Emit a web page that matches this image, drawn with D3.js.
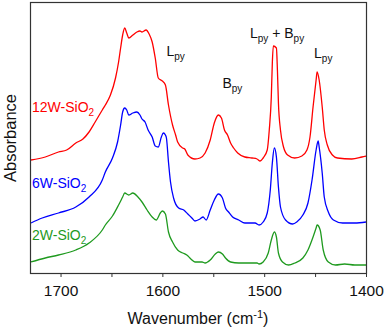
<!DOCTYPE html>
<html>
<head>
<meta charset="utf-8">
<script src="https://cdn.jsdelivr.net/npm/d3@7"></script>
<style>
  body { margin: 0; background: #fff; }
  svg { display: block; font-family: Arial, "Liberation Sans", sans-serif; }
</style>
</head>
<body>
<script>
// wavenumbers (cm-1) and absorbance (offset, a.u.)
var wn12 = [1729, 1715, 1702, 1694, 1685, 1678, 1672, 1666, 1659, 1656, 1651, 1646, 1643, 1641, 1639, 1637, 1635, 1633,
    1629, 1625, 1622, 1620, 1616, 1613, 1610, 1607, 1604, 1600, 1597, 1594, 1590, 1587, 1585, 1580, 1578, 1575, 1568,
    1563, 1558, 1553, 1549, 1545, 1542, 1539, 1536, 1533, 1530, 1526, 1519, 1512, 1507, 1504, 1501, 1497, 1495, 1493,
    1492, 1491, 1488, 1487, 1486, 1484, 1481, 1477, 1470, 1463, 1458, 1455, 1452, 1449, 1448, 1446, 1443, 1441, 1438,
    1433, 1428, 1414, 1404, 1400];
var abs12 = [1.13, 1.16, 1.21, 1.23, 1.30, 1.34, 1.41, 1.51, 1.63, 1.68, 1.78, 1.95, 2.11, 2.25, 2.38, 2.45, 2.40, 2.35,
    2.38, 2.41, 2.42, 2.41, 2.43, 2.39, 2.31, 2.15, 1.95, 1.92, 1.88, 1.68, 1.48, 1.38, 1.31, 1.25, 1.24, 1.18, 1.14,
    1.15, 1.20, 1.33, 1.50, 1.58, 1.55, 1.43, 1.38, 1.30, 1.25, 1.20, 1.16, 1.15, 1.14, 1.12, 1.15, 1.23, 1.43, 1.76,
    2.10, 2.27, 2.25, 2.03, 1.70, 1.43, 1.26, 1.18, 1.15, 1.17, 1.23, 1.36, 1.66, 1.93, 2.01, 1.93, 1.66, 1.43, 1.28,
    1.18, 1.15, 1.14, 1.16, 1.17];

var wn6 = [1729, 1718, 1702, 1685, 1672, 1659, 1656, 1649, 1644, 1641, 1639, 1637, 1635, 1633, 1629, 1625, 1622, 1620,
    1617, 1614, 1610, 1607, 1604, 1601, 1599, 1597, 1596, 1594, 1592, 1589, 1584, 1579, 1575, 1571, 1568, 1563, 1560,
    1557, 1553, 1549, 1545, 1541, 1538, 1535, 1531, 1525, 1519, 1509, 1505, 1501, 1497, 1494, 1492, 1490, 1488, 1486,
    1484, 1479, 1472, 1468, 1462, 1457, 1453, 1449, 1447, 1446, 1443, 1441, 1437, 1432, 1423, 1411, 1400];
var abs6 = [0.50, 0.55, 0.60, 0.66, 0.76, 0.93, 1.01, 1.15, 1.31, 1.48, 1.61, 1.65, 1.63, 1.58, 1.60, 1.61, 1.58, 1.54,
    1.51, 1.43, 1.36, 1.27, 1.26, 1.36, 1.40, 1.38, 1.35, 1.11, 0.91, 0.75, 0.65, 0.63, 0.59, 0.55, 0.52, 0.54, 0.56,
    0.53, 0.63, 0.73, 0.79, 0.75, 0.65, 0.61, 0.56, 0.53, 0.50, 0.50, 0.48, 0.51, 0.60, 0.83, 1.10, 1.25, 1.16, 0.86,
    0.66, 0.53, 0.49, 0.51, 0.58, 0.70, 0.93, 1.23, 1.32, 1.26, 1.00, 0.76, 0.61, 0.53, 0.50, 0.50, 0.51];

var wn2 = [1729, 1715, 1702, 1685, 1672, 1659, 1656, 1649, 1643, 1639, 1637, 1633, 1629, 1624, 1620, 1615, 1610, 1606,
    1602, 1600, 1597, 1594, 1590, 1585, 1580, 1576, 1572, 1568, 1561, 1558, 1553, 1548, 1545, 1541, 1538, 1533, 1525,
    1516, 1507, 1505, 1501, 1496, 1493, 1490, 1488, 1486, 1482, 1476, 1470, 1462, 1457, 1452, 1449, 1448, 1445, 1442,
    1437, 1430, 1421, 1411, 1400];
var abs2 = [0.11, 0.15, 0.18, 0.23, 0.30, 0.43, 0.48, 0.57, 0.68, 0.76, 0.80, 0.78, 0.80, 0.76, 0.71, 0.63, 0.56, 0.53,
    0.60, 0.62, 0.59, 0.41, 0.31, 0.23, 0.20, 0.18, 0.14, 0.11, 0.11, 0.10, 0.13, 0.19, 0.21, 0.19, 0.15, 0.11, 0.10,
    0.10, 0.10, 0.09, 0.11, 0.20, 0.33, 0.41, 0.36, 0.20, 0.11, 0.08, 0.10, 0.15, 0.23, 0.36, 0.45, 0.48, 0.43, 0.23,
    0.11, 0.08, 0.09, 0.08, 0.08];

var seriesNames = ["12W-SiO2", "6W-SiO2", "2W-SiO2"];
var xTicks = [1700, 1650, 1600, 1550, 1500, 1450, 1400];

var width = 387, height = 329;
var margin = {left: 30, right: 21, top: 2, bottom: 56};
var plotW = width - margin.left - margin.right;
var plotH = height - margin.top - margin.bottom;

var series = [
    {name: seriesNames[0], wn: wn12, abs: abs12, color: "#ff0000", labelAbs: 1.61},
    {name: seriesNames[1], wn: wn6, abs: abs6, color: "#0000ff", labelAbs: 0.85},
    {name: seriesNames[2], wn: wn2, abs: abs2, color: "#1f9a1f", labelAbs: 0.33}
];

var x = d3.scaleLinear().domain([1730, 1400]).range([0, plotW]);
var y = d3.scaleLinear().domain([0, 2.71]).range([plotH, 0]);

var svg = d3.select("body").append("svg")
    .attr("width", width)
    .attr("height", height);

var g = svg.append("g")
    .attr("transform", "translate(" + margin.left + "," + margin.top + ")");

var line = d3.line()
    .x(function(d) { return x(d[0]); })
    .y(function(d) { return y(d[1]); })
    .curve(d3.curveMonotoneX);

series.forEach(function(s) {
    var pts = s.wn.map(function(w, i) { return [w, s.abs[i]]; });
    g.append("path")
        .datum(pts)
        .attr("fill", "none")
        .attr("stroke", s.color)
        .attr("stroke-width", 1.3)
        .attr("stroke-linejoin", "round")
        .attr("d", line);

    // sample label: "12W-SiO" + subscript 2
    var t = g.append("text")
        .attr("x", 2)
        .attr("y", y(s.labelAbs))
        .attr("fill", s.color)
        .style("font-size", "14px");
    t.append("tspan").text(s.name.slice(0, -1));
    t.append("tspan").attr("dy", 4).style("font-size", "10px").text(s.name.slice(-1));
});

// peak assignments
function sublabel(px, py, parts) {
    var t = g.append("text")
        .attr("x", px)
        .attr("y", py)
        .attr("fill", "#111")
        .style("font-size", "14px");
    parts.forEach(function(p) {
        if (p.sub) {
            t.append("tspan").attr("dy", 4).style("font-size", "10px").text(p.text);
        } else {
            t.append("tspan").attr("dy", p.after ? -4 : 0).text(p.text);
        }
    });
}
sublabel(x(1596), 54, [{text: "L"}, {text: "py", sub: true}]);
sublabel(x(1541), 86, [{text: "B"}, {text: "py", sub: true}]);
sublabel(x(1514), 36, [{text: "L"}, {text: "py", sub: true}, {text: "\u00a0+\u00a0B", after: true}, {text: "py", sub: true}]);
sublabel(x(1451), 56, [{text: "L"}, {text: "py", sub: true}]);

// x axis
var xAxis = d3.axisBottom(x)
    .tickValues(xTicks)
    .tickSize(4)
    .tickPadding(8)
    .tickFormat(function(d) { return d % 100 === 0 ? d : ""; });

var ax = g.append("g")
    .attr("transform", "translate(0," + plotH + ")")
    .call(xAxis);
ax.select(".domain").remove();
ax.selectAll(".tick line").attr("stroke", "#333");
ax.selectAll(".tick text")
    .attr("fill", "#111")
    .style("font-size", "15.5px")
    .style("font-family", "Arial, 'Liberation Sans', sans-serif");

// frame
g.append("rect")
    .attr("x", 0.5)
    .attr("y", 0.5)
    .attr("width", plotW)
    .attr("height", plotH)
    .attr("fill", "none")
    .attr("stroke", "#333")
    .attr("stroke-width", 1.2);

// axis titles
var xt = svg.append("text")
    .attr("x", margin.left + plotW / 2 + 0)
    .attr("y", 324)
    .attr("text-anchor", "middle")
    .attr("fill", "#111")
    .style("font-size", "16px");
xt.append("tspan").text("Wavenumber (cm");
xt.append("tspan").attr("dy", -6).style("font-size", "11px").text("-1");
xt.append("tspan").attr("dy", 6).text(")");

svg.append("text")
    .attr("transform", "translate(16,138) rotate(-90)")
    .attr("text-anchor", "middle")
    .attr("fill", "#111")
    .style("font-size", "16.5px")
    .text("Absorbance");
</script>
</body>
</html>
